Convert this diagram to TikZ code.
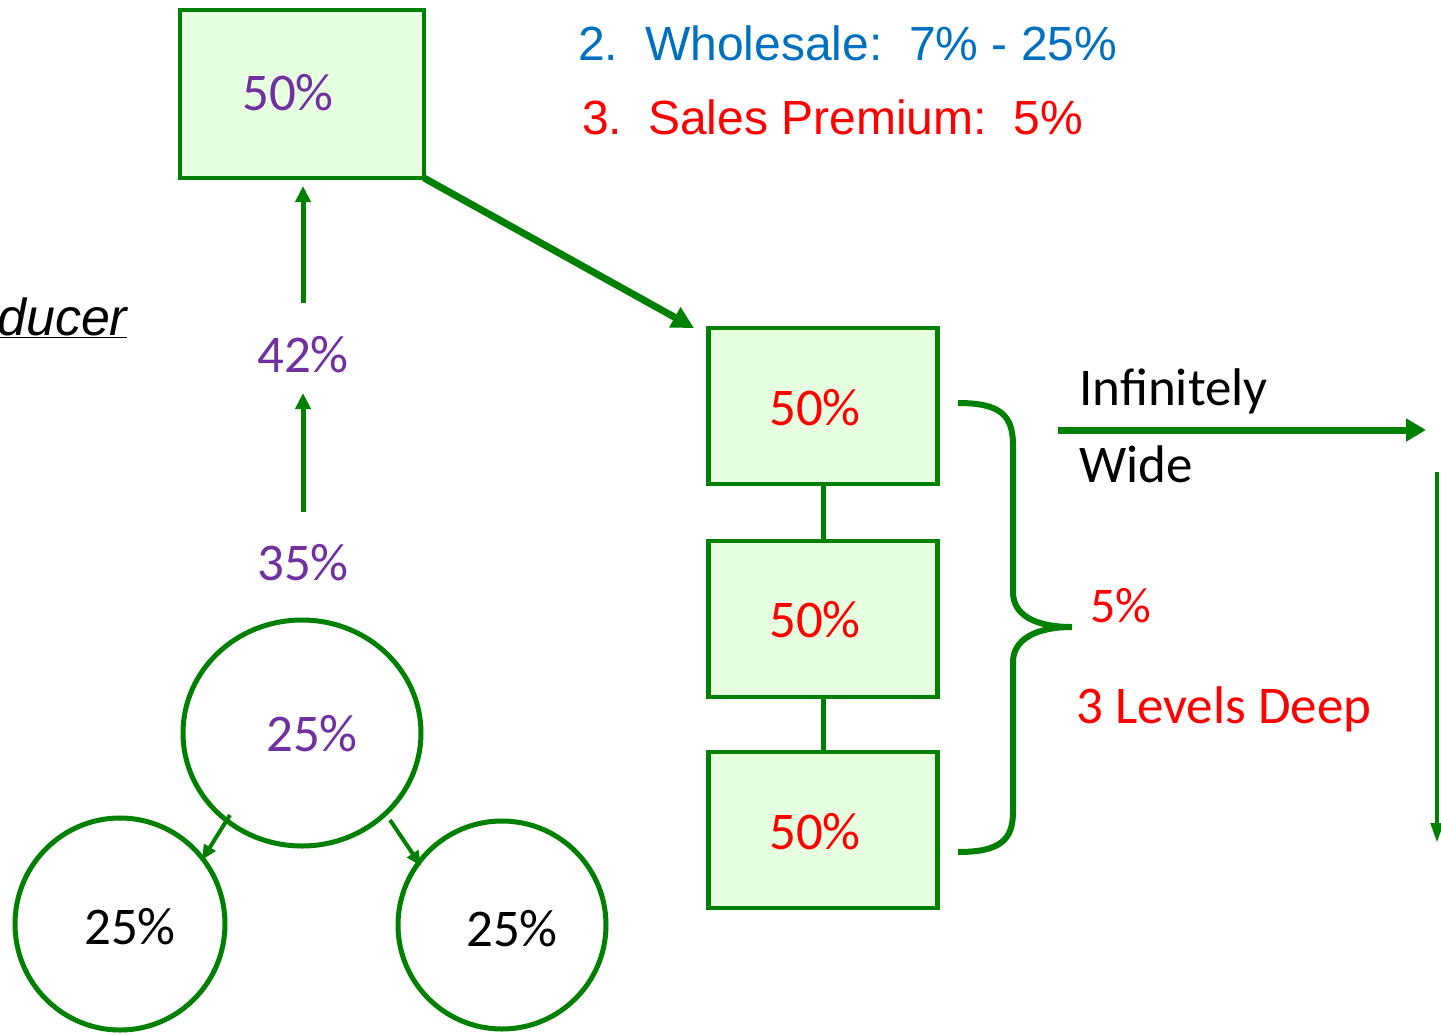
\documentclass[tikz,border=0pt]{standalone}
\usepackage{fontspec}
\setmainfont{Carlito}
\newfontfamily\arialf{Liberation Sans}
\usetikzlibrary{arrows.meta}
\definecolor{gline}{RGB}{0,128,0}
\definecolor{gfill}{RGB}{230,255,224}
\definecolor{purp}{RGB}{112,48,160}
\definecolor{bluet}{RGB}{0,112,192}
\definecolor{redt}{RGB}{255,0,0}
\tikzset{
  pbox/.style={draw=gline, fill=gfill, line width=4.5pt, minimum width=244pt, minimum height=168pt, inner sep=0pt},
  rbox/.style={draw=gline, fill=gfill, line width=4.5pt, minimum width=229pt, minimum height=156pt, inner sep=0pt},
  num/.style={font=\fontsize{53}{60}\selectfont, inner sep=0pt},
  lab/.style={font=\fontsize{53}{60}\selectfont, inner sep=0pt, anchor=base west},
  arl/.style={font=\arialf\fontsize{48}{58}\selectfont, inner sep=0pt, anchor=base west},
  garrow/.style={draw=gline, line width=5pt, -{Triangle[length=16pt,width=15pt]}},
  gline/.style={draw=gline, line width=5pt},
}
\begin{document}
\begin{tikzpicture}[x=1pt,y=-1pt]
\useasboundingbox (0,0) rectangle (1441,1034);
% top box
\node[pbox] (top) at (302,94) {};
\node[num, text=purp] (t50) at (288,93) {50\%};
% percentages
\node[num, text=purp] (p42) at (303,355) {42\%};
\node[num, text=purp] (p35) at (303,563) {35\%};
\coordinate (a1s) at (303,303);
\coordinate (a1e) at (303,186);
\coordinate (a2s) at (303,512);
\coordinate (a2e) at (303,393);
\draw[garrow] (a1s) -- (a1e);
\draw[garrow] (a2s) -- (a2e);
% circles
\coordinate (c1) at (302,733);
\draw[gline] (c1) ellipse [x radius=119, y radius=113];
\node[num, text=purp] (c1t) at (312,734) {25\%};
\coordinate (c2) at (120,924);
\draw[gline] (c2) ellipse [x radius=105, y radius=106];
\node[num, text=black] (c2t) at (130,927) {25\%};
\coordinate (c3) at (502,925);
\draw[gline] (c3) ellipse [x radius=104, y radius=104];
\node[num, text=black] (c3t) at (512,929) {25\%};
\coordinate (s1a) at (230,815);
\coordinate (s1b) at (202,860);
\coordinate (s2a) at (390,820);
\coordinate (s2b) at (421,866);
\draw[draw=gline, line width=4pt, -{Triangle[length=15pt,width=13pt]}] (s1a) -- (s1b);
\draw[draw=gline, line width=4pt, -{Triangle[length=15pt,width=13pt]}] (s2a) -- (s2b);
% right boxes
\node[rbox] (b1) at (823,406) {};
\node[rbox] (b2) at (823,619) {};
\node[rbox] (b3) at (823,830) {};
\draw[gline] (b1.south) -- (b2.north);
\draw[gline] (b2.south) -- (b3.north);
\node[num, text=redt] (b1t) at (815,408) {50\%};
\node[num, text=redt] (b2t) at (815,620) {50\%};
\node[num, text=redt] (b3t) at (815,832) {50\%};
% diagonal arrow
\coordinate (dstart) at (424,178);
\coordinate (dend) at (694,328);
\draw[draw=gline, line width=7pt, -{Triangle[length=22pt,width=22pt]}] (dstart) -- (dend);
% brace
\coordinate (brt) at (958,403);
\coordinate (brb) at (958,852);
\coordinate (brtip) at (1072,627);
\draw[draw=gline, line width=6pt] (brt) .. controls (1000,403) and (1013,415) .. (1013,445) -- (1013,592)
  .. controls (1013,615) and (1035,627) .. (brtip)
  .. controls (1035,627) and (1013,640) .. (1013,662) -- (1013,812)
  .. controls (1013,840) and (1000,852) .. (brb);
% right texts
\node[lab] (inf) at (1079,405) {Infinitely};
\node[lab] (wide) at (1079,482) {Wide};
\node[lab, text=redt, font=\fontsize{50}{60}\selectfont] (five) at (1090,622) {5\%};
\node[lab, text=redt] (deep) at (1076,723) {3 Levels Deep};
\coordinate (ws) at (1058,430);
\coordinate (we) at (1426,430);
\draw[draw=gline, line width=7pt, -{Triangle[length=20pt,width=22pt]}] (ws) -- (we);
\coordinate (ds) at (1437,472);
\coordinate (de) at (1437,843);
\draw[draw=gline, line width=4.5pt, -{Triangle[length=20pt,width=12pt]}] (ds) -- (de);
% top texts
\node[arl, text=bluet] (w2) at (578,60) {2.};
\node[arl, text=bluet] (wt) at (645,60) {Wholesale:\ \ 7\% - 25\%};
\node[arl, text=redt] (s3) at (582,134) {3.};
\node[arl, text=redt] (st) at (648,134) {Sales Premium:\ \ 5\%};
% ducer
\node[arl, font=\arialf\itshape\fontsize{52}{60}\selectfont, text=black] (du) at (-3,335) {\underline{ducer}};
\end{tikzpicture}
\end{document}
